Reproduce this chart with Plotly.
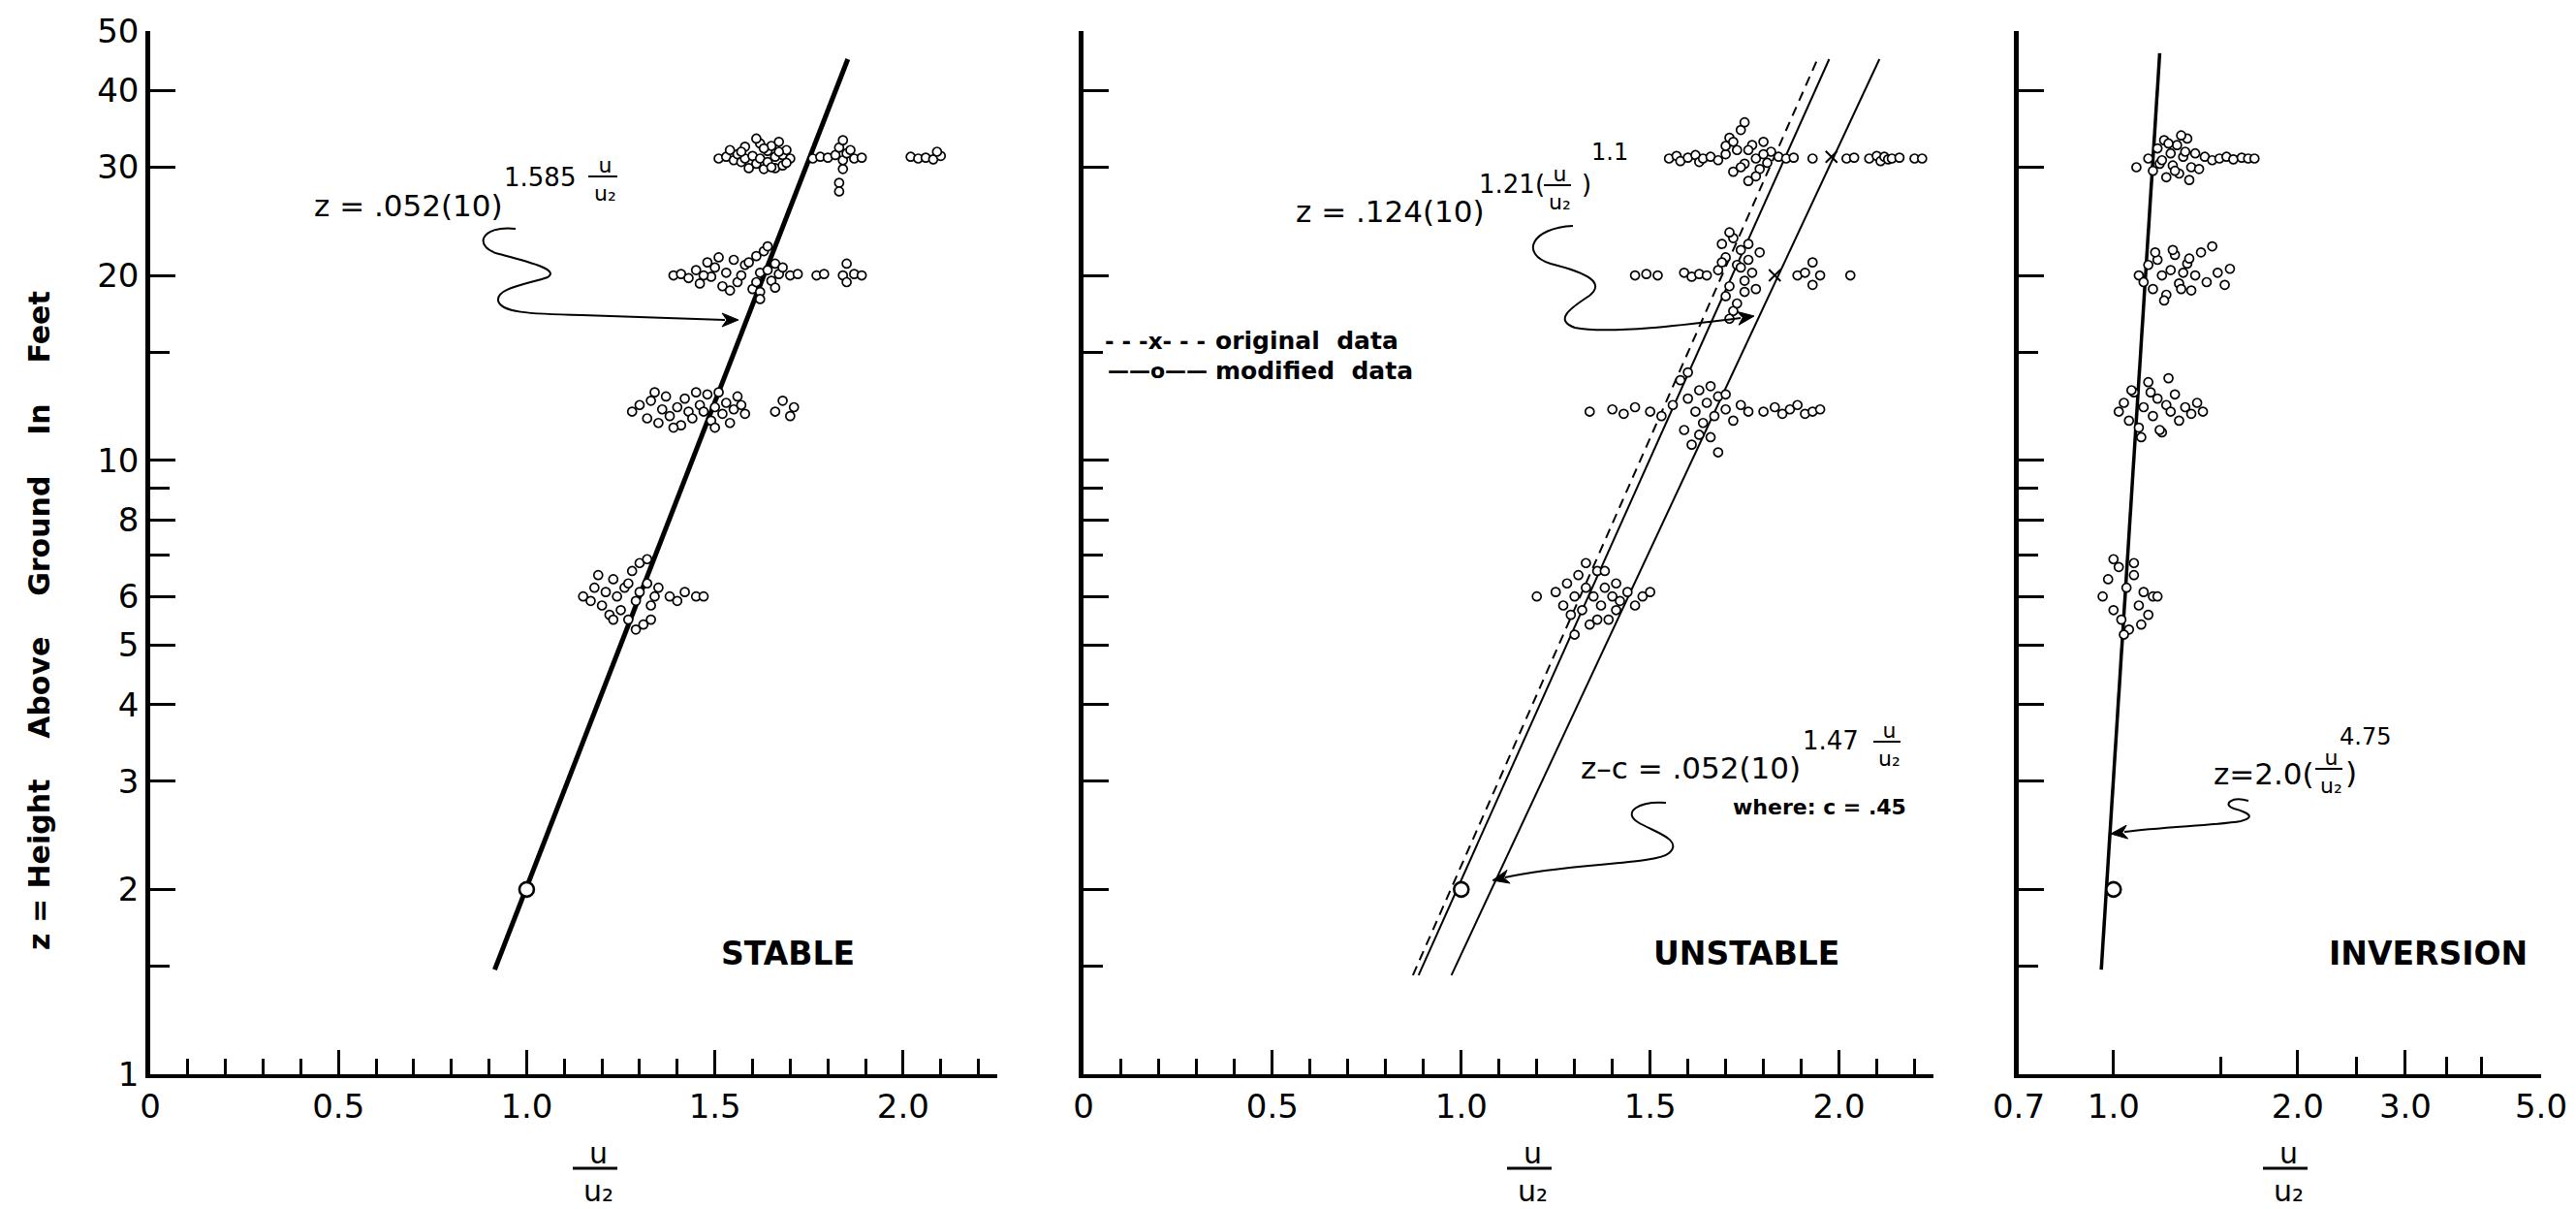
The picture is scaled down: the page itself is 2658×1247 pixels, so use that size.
import math
import plotly.graph_objects as go

# ---------------- data ----------------
# STABLE panel: u/u2 and z for the measured points
stable_u = [1.51,1.53,1.55,1.56,1.57,1.58,1.58,1.60,1.61,1.62,1.62,1.63,1.64,1.64,1.65,1.66,1.66,1.67,1.68,1.68,1.69,1.70,
            1.54,1.59,1.61,1.63,1.65,1.67,1.69,1.57,
            1.76,1.78,1.80,1.82,1.83,1.84,1.84,1.84,1.85,1.86,1.87,1.89,1.83,1.83,
            2.02,2.04,2.06,2.08,2.10,2.09,
            1.39,1.41,1.43,1.45,1.46,1.48,1.49,1.50,1.52,1.53,1.55,1.56,1.57,1.58,1.60,1.61,1.62,1.62,1.63,1.64,1.65,1.66,1.67,1.68,1.70,1.72,
            1.47,1.51,1.54,1.59,1.61,1.64,1.66,
            1.77,1.79,1.84,1.85,1.85,1.87,1.89,1.62,
            1.28,1.30,1.32,1.33,1.35,1.36,1.37,1.38,1.40,1.41,1.42,1.43,1.44,1.46,1.47,1.48,1.49,1.50,1.51,1.52,1.53,1.54,1.55,1.57,1.58,
            1.34,1.39,1.45,1.50,1.56,
            1.66,1.68,1.70,1.71,
            1.15,1.17,1.18,1.20,1.21,1.22,1.23,1.24,1.25,1.26,1.27,1.28,1.29,1.30,1.30,1.31,1.32,1.33,1.34,1.35,
            1.19,1.23,1.27,1.29,1.32,1.33,
            1.38,1.40,1.42,1.45,1.47]
stable_z = [31.0,31.2,30.8,31.5,30.6,32.4,31.0,31.3,30.4,32.8,31.0,29.8,31.9,30.6,32.5,31.2,29.9,33.0,31.4,30.2,32.0,31.0,
            32.0,29.9,33.4,32.2,30.0,31.8,30.5,31.8,
            31.0,31.2,31.1,31.4,32.3,33.2,30.8,29.8,31.6,32.0,31.0,31.1,28.3,27.4,
            31.2,31.0,31.1,30.9,31.3,31.8,
            20.0,20.1,19.8,20.4,19.4,21.0,19.9,20.6,19.2,20.2,21.2,19.5,20.0,20.8,19.0,21.5,20.2,18.8,21.9,20.4,19.6,20.9,20.1,20.6,20.0,20.1,
            20.0,21.4,18.9,21.0,19.5,22.3,19.1,
            20.0,20.1,20.0,20.9,19.5,20.1,20.0,18.3,
            12.0,12.3,11.7,12.5,11.5,12.1,12.7,11.8,12.2,11.4,12.6,12.0,11.7,12.3,12.0,12.8,11.6,12.2,12.9,11.9,12.4,11.5,12.1,12.3,11.9,
            12.9,11.3,12.9,11.3,12.7,
            12.0,12.5,11.8,12.2,
            6.0,5.9,6.2,5.8,6.1,5.6,6.4,6.0,5.7,6.2,5.5,6.6,5.9,6.8,6.1,5.4,6.3,5.8,6.0,6.2,
            6.5,5.5,6.3,5.3,6.9,5.5,
            6.0,5.9,6.1,6.0,6.0]
stable_fit_u = [0.915, 1.853]
stable_fit_z = [1.48, 45.0]

# UNSTABLE panel
unstable_u = [1.55,1.57,1.58,1.60,1.62,1.63,1.64,1.66,1.68,1.70,1.71,1.72,1.73,1.74,1.75,1.76,1.77,1.78,1.79,1.80,1.81,1.82,1.84,1.86,1.88,
              1.70,1.72,1.74,1.76,1.78,1.80,1.75,
              1.93,2.02,2.04,2.08,2.10,2.11,2.12,2.13,2.14,2.16,2.20,2.22,2.34,
              1.46,1.49,1.52,1.59,1.61,1.63,1.65,1.68,1.69,1.70,1.70,1.71,1.72,1.72,1.73,1.74,1.75,1.75,1.76,1.77,1.78,1.79,
              1.69,1.71,1.73,1.74,1.76,1.71,
              1.89,1.91,1.93,1.93,1.95,2.03,
              1.34,1.40,1.43,1.46,1.50,1.53,1.56,1.58,1.59,1.60,1.61,1.62,1.63,1.64,1.65,1.66,1.67,1.68,1.70,1.72,1.74,1.76,
              1.60,1.63,1.66,1.68,1.70,
              1.80,1.83,1.85,1.87,1.89,1.91,1.93,1.95,
              1.20,1.25,1.27,1.28,1.29,1.30,1.31,1.32,1.33,1.34,1.35,1.36,1.37,1.38,1.39,1.40,1.41,1.42,1.44,1.46,1.48,1.50,
              1.30,1.33,1.36,1.38,1.41]
unstable_z = [31.0,31.3,30.7,31.1,31.4,30.6,31.0,31.2,30.8,31.5,33.5,29.5,32.0,34.5,30.4,28.5,32.6,31.0,29.8,33.0,30.5,31.8,31.2,31.0,31.1,
              32.5,33.0,30.0,32.0,29.0,31.5,35.5,
              31.0,31.0,31.1,31.0,31.3,30.7,31.2,30.9,31.0,31.1,31.0,31.0,31.0,
              20.0,20.1,20.0,20.2,19.9,20.1,20.0,20.4,22.5,18.5,21.4,19.2,23.0,17.5,20.8,22.0,18.8,19.6,21.2,20.2,19.0,21.8,
              21.0,23.5,18.0,20.6,22.5,17.0,
              20.0,20.2,21.0,19.3,20.0,20.0,
              12.0,12.1,11.9,12.2,12.0,11.8,12.3,13.5,11.2,12.6,10.6,12.0,13.0,11.5,12.4,10.9,11.8,12.7,12.1,11.6,12.3,12.0,
              13.9,11.0,13.2,10.3,12.8,
              12.0,12.2,11.9,12.1,12.3,11.9,12.0,12.1,
              6.0,6.1,5.8,6.3,5.6,6.0,6.5,5.7,6.2,5.4,6.0,6.6,5.8,6.2,5.5,6.0,6.3,5.9,6.1,5.8,6.0,6.1,
              5.2,6.8,5.5,6.6,5.7]
original_x_u = [1.98, 1.83]
original_x_z = [31.2, 20.0]
original_fit_u = [0.872, 1.943]
original_fit_z = [1.45, 45.0]
modified_fit_u = [0.887, 1.974]
modified_fit_z = [1.45, 45.0]
shifted_fit_u = [0.974, 2.107]
shifted_fit_z = [1.45, 45.0]

# INVERSION panel
inversion_u = [1.09,1.14,1.16,1.18,1.19,1.21,1.22,1.24,1.25,1.27,1.28,1.30,1.32,1.34,1.36,1.38,1.41,1.45,1.49,1.53,1.57,1.62,1.66,1.70,
               1.20,1.23,1.26,1.29,1.31,1.33,
               1.10,1.12,1.14,1.16,1.18,1.20,1.22,1.24,1.26,1.28,1.30,1.32,1.34,1.36,1.39,1.42,1.45,1.48,1.52,1.55,
               1.17,1.21,1.25,1.29,1.33,
               1.02,1.04,1.06,1.08,1.10,1.12,1.14,1.16,1.18,1.20,1.22,1.24,1.26,1.28,1.31,1.34,1.37,1.40,
               1.07,1.11,1.15,1.19,1.23,
               0.96,0.98,1.00,1.02,1.03,1.05,1.06,1.08,1.10,1.12,1.14,1.16,1.18,
               1.00,1.04,1.08,1.11]
inversion_z = [30.0,31.0,29.6,32.2,30.4,33.2,28.9,31.6,30.2,32.6,29.3,31.2,33.4,30.0,31.6,29.8,31.2,30.8,31.0,31.2,30.9,31.1,31.0,31.0,
               30.8,32.8,29.6,33.8,31.8,28.6,
               20.0,19.5,20.8,19.0,21.2,20.0,18.6,20.4,21.6,19.4,20.2,20.9,18.9,20.0,21.8,19.5,22.3,20.2,19.3,20.5,
               21.8,18.2,22.0,19.0,21.3,
               12.0,12.4,11.6,12.9,11.3,12.2,13.4,11.8,12.6,11.1,12.3,12.0,12.8,11.6,12.2,11.9,12.4,12.0,
               13.0,10.9,12.9,11.2,13.6,
               6.0,6.4,5.7,6.7,5.5,6.2,5.3,6.5,5.8,6.1,5.6,6.0,6.0,
               6.9,5.2,6.8,5.4]
inversion_fit_u = [0.955, 1.19]
inversion_fit_z = [1.48, 46.0]

ref_point_u = [1.0]
ref_point_z = [2.0]

# axis ticks
y_tickvals = [1, 2, 3, 4, 5, 6, 8, 10, 20, 30, 40, 50]
y_ticktext = ["1", "2", "3", "4", "5", "6", "8", "10", "20", "30", "40", "50"]
y_minor = [1.5, 7, 9, 15]
lin_tickvals = [0, 0.5, 1.0, 1.5, 2.0]
lin_ticktext = ["0", "0.5", "1.0", "1.5", "2.0"]
lin_minor = [0.1, 0.2, 0.3, 0.4, 0.6, 0.7, 0.8, 0.9, 1.1, 1.2, 1.3, 1.4, 1.6, 1.7, 1.8, 1.9, 2.1, 2.2, 2.25]
log_x_tickvals = [0.7, 1.0, 2.0, 3.0, 5.0]
log_x_ticktext = ["0.7", "1.0", "2.0", "3.0", "5.0"]
log_x_minor = [1.5, 2.5, 3.5, 4.0]
panel_titles = ["STABLE", "UNSTABLE", "INVERSION"]

# ---------------- layout helpers ----------------
W, H = 2658, 1247
T, B = 32, 1108
FONT = "DejaVu Sans"


def PX(x):
    return x / W


def PY(y):
    return (B - y) / (B - T)


annotations = []
shapes = []


def ann(text, x, y, size, xanchor="center", bold=False, angle=0):
    annotations.append(dict(
        text=f"<b>{text}</b>" if bold else text, x=PX(x), y=PY(y), xref="paper", yref="paper",
        xanchor=xanchor, yanchor="middle", showarrow=False, textangle=angle,
        font=dict(family=FONT, size=size, color="black")))


def bar(x0, x1, y, w=2):
    shapes.append(dict(type="line", xref="paper", yref="paper", x0=PX(x0), x1=PX(x1),
                       y0=PY(y), y1=PY(y), line=dict(color="black", width=w)))


def fraction(cx, yline, size, half, w=2):
    # one text block: "u" above, "u2" below, with the fraction bar between them
    ann("u<br>u\u2082", cx + size * 0.1, yline + size * 0.12, size)
    bar(cx - half, cx + half, yline, w)


def path(cmds, w=2, fill=None):
    parts = []
    for c in cmds:
        if isinstance(c, str):
            parts.append(c)
        else:
            parts.append(f"{PX(c[0]):.5f},{PY(c[1]):.5f}")
    s = dict(type="path", xref="paper", yref="paper", path=" ".join(parts),
             line=dict(color="black", width=w))
    if fill:
        s["fillcolor"] = fill
    shapes.append(s)


def arrowhead(tx, ty, dx, dy, length=17, half=7):
    n = math.hypot(dx, dy)
    ux, uy = dx / n, dy / n
    bx, by = tx - ux * length, ty - uy * length
    left = (bx - uy * half, by + ux * half)
    right = (bx + uy * half, by - ux * half)
    path(["M", (tx, ty), "L", left, "L", (bx + ux * 5, by + uy * 5), "L", right, "Z"], w=1, fill="black")


# ---------------- traces ----------------
fig = go.Figure()
pt_marker = dict(symbol="circle", size=9, color="white", line=dict(color="black", width=1.7))
ref_marker = dict(symbol="circle", size=15, color="white", line=dict(color="black", width=2.6))

# STABLE
fig.add_trace(go.Scatter(x=stable_fit_u, y=stable_fit_z, mode="lines", line=dict(color="black", width=5),
                         xaxis="x", yaxis="y"))
fig.add_trace(go.Scatter(x=stable_u, y=stable_z, mode="markers", marker=pt_marker, xaxis="x", yaxis="y"))
fig.add_trace(go.Scatter(x=ref_point_u, y=ref_point_z, mode="markers", marker=ref_marker, xaxis="x", yaxis="y"))

# UNSTABLE
fig.add_trace(go.Scatter(x=original_fit_u, y=original_fit_z, mode="lines",
                         line=dict(color="black", width=2, dash="10px,7px"), xaxis="x2", yaxis="y2"))
fig.add_trace(go.Scatter(x=modified_fit_u, y=modified_fit_z, mode="lines", line=dict(color="black", width=2),
                         xaxis="x2", yaxis="y2"))
fig.add_trace(go.Scatter(x=shifted_fit_u, y=shifted_fit_z, mode="lines", line=dict(color="black", width=2),
                         xaxis="x2", yaxis="y2"))
fig.add_trace(go.Scatter(x=unstable_u, y=unstable_z, mode="markers", marker=pt_marker, xaxis="x2", yaxis="y2"))
fig.add_trace(go.Scatter(x=original_x_u, y=original_x_z, mode="markers",
                         marker=dict(symbol="x-thin", size=12, line=dict(color="black", width=2)),
                         xaxis="x2", yaxis="y2"))
fig.add_trace(go.Scatter(x=ref_point_u, y=ref_point_z, mode="markers", marker=ref_marker, xaxis="x2", yaxis="y2"))

# INVERSION
fig.add_trace(go.Scatter(x=inversion_fit_u, y=inversion_fit_z, mode="lines", line=dict(color="black", width=3.5),
                         xaxis="x3", yaxis="y3"))
fig.add_trace(go.Scatter(x=inversion_u, y=inversion_z, mode="markers", marker=pt_marker, xaxis="x3", yaxis="y3"))
fig.add_trace(go.Scatter(x=ref_point_u, y=ref_point_z, mode="markers", marker=ref_marker, xaxis="x3", yaxis="y3"))

# ---------------- axes ----------------
tickfont = dict(family=FONT, size=34, color="black")


def yaxis(anchor, labels):
    return dict(type="log", range=[0, 1.69897], anchor=anchor, domain=[0, 1], automargin=False,
                tickmode="array", tickvals=y_tickvals, ticktext=y_ticktext, showticklabels=labels,
                ticks="inside", ticklen=26, tickwidth=3, tickcolor="black",
                minor=dict(tickmode="array", tickvals=y_minor, ticks="inside", ticklen=20, tickwidth=3,
                           tickcolor="black"),
                showline=True, linewidth=4.5, linecolor="black", showgrid=False, zeroline=False,
                tickfont=tickfont)


def xlin(anchor, domain):
    return dict(range=[0, 2.25], anchor=anchor, domain=domain, automargin=False, tickmode="array",
                tickvals=lin_tickvals, ticktext=lin_ticktext, ticks="inside", ticklen=25, tickwidth=3,
                tickcolor="black",
                minor=dict(tickmode="array", tickvals=lin_minor, ticks="inside", ticklen=16, tickwidth=2.5,
                           tickcolor="black"),
                showline=True, linewidth=4, linecolor="black", showgrid=False, zeroline=False,
                tickfont=tickfont)


fig.update_layout(
    width=W, height=H, margin=dict(l=0, r=0, t=T, b=H - B, pad=0, autoexpand=False),
    paper_bgcolor="white", plot_bgcolor="white", showlegend=False,
    xaxis=xlin("y", [155 / W, 1029 / W]),
    xaxis2=xlin("y2", [1118 / W, 1995 / W]),
    xaxis3=dict(type="log", range=[-0.154902, 0.69897], anchor="y3", domain=[2083 / W, 2622 / W],
                automargin=False, tickmode="array", tickvals=log_x_tickvals, ticktext=log_x_ticktext,
                ticks="inside", ticklen=25, tickwidth=3, tickcolor="black",
                minor=dict(tickmode="array", tickvals=log_x_minor, ticks="inside", ticklen=18, tickwidth=2.5,
                           tickcolor="black"),
                showline=True, linewidth=4, linecolor="black", showgrid=False, zeroline=False,
                tickfont=tickfont),
    yaxis=yaxis("x", True),
    yaxis2=yaxis("x2", False),
    yaxis3=yaxis("x3", False),
)

# ---------------- text ----------------
nb = "\u00a0"
ann(f"z = Height{nb*4}Above{nb*4}Ground{nb*4}In{nb*4}Feet", 40, 640, 30, bold=True, angle=-90)

# axis-title fractions
for cx in (614, 1578, 2358):
    fraction(cx, 1205, 30, 23, w=3)

# panel names
ann(panel_titles[0], 813, 983, 33, bold=True)
ann(panel_titles[1], 1802, 983, 33, bold=True)
ann(panel_titles[2], 2505, 983, 33, bold=True)

# STABLE equation
ann("z = .052(10)", 521, 212, 31, xanchor="right")
ann("1.585", 518, 183, 26, xanchor="left")
fraction(622, 182, 22, 15)
path(["M", (532, 236), "C", (495, 232), (488, 255), (515, 262), "C", (545, 270), (578, 278), (565, 286),
      "C", (545, 293), (512, 297), (514, 310), "C", (516, 322), (545, 324), (600, 325), "L", (748, 330)])
arrowhead(762, 330, 1, 0)

# UNSTABLE equations
ann("z = .124(10)", 1534, 218, 31, xanchor="right")
ann("1.21(", 1524, 190, 26, xanchor="left")
fraction(1607, 191, 22, 14)
ann(")", 1630, 190, 26, xanchor="left")
ann("1.1", 1640, 157, 24, xanchor="left")
path(["M", (1623, 233), "C", (1580, 235), (1568, 262), (1600, 272), "C", (1640, 282), (1656, 292), (1640, 305),
      "C", (1620, 318), (1603, 330), (1625, 338), "C", (1660, 345), (1740, 335), (1796, 328)])
arrowhead(1810, 326, 22, -3)

ann("z\u2013c = .052(10)", 1860, 792, 31, xanchor="right")
ann("1.47", 1858, 764, 26, xanchor="left")
fraction(1947, 765, 22, 14)
ann("where: c = .45", 1877, 833, 22, bold=True)
path(["M", (1719, 828), "C", (1690, 826), (1674, 838), (1690, 848), "C", (1706, 858), (1738, 866), (1722, 880),
      "C", (1708, 892), (1620, 890), (1553, 905)])
arrowhead(1540, 908, -22, 5)

# legend
ann("- - -x- - -", 1192, 352, 23, bold=True)
ann("original  data", 1252, 352, 25, xanchor="left", bold=True)
ann("\u2014\u2014o\u2014\u2014", 1194, 382, 22, bold=True)
ann("modified  data", 1252, 382, 25, xanchor="left", bold=True)

# INVERSION equation
ann("z=2.0(", 2390, 798, 31, xanchor="right")
fraction(2403, 793, 22, 14)
ann(")", 2418, 797, 31, xanchor="left")
ann("4.75", 2412, 760, 24, xanchor="left")
path(["M", (2320, 826), "C", (2302, 821), (2293, 830), (2305, 834), "C", (2320, 838), (2328, 843), (2312, 847),
      "C", (2290, 851), (2230, 853), (2192, 858)])
arrowhead(2178, 860, -18, 2)

fig.update_layout(annotations=annotations, shapes=shapes)
fig.write_html("out.html")
